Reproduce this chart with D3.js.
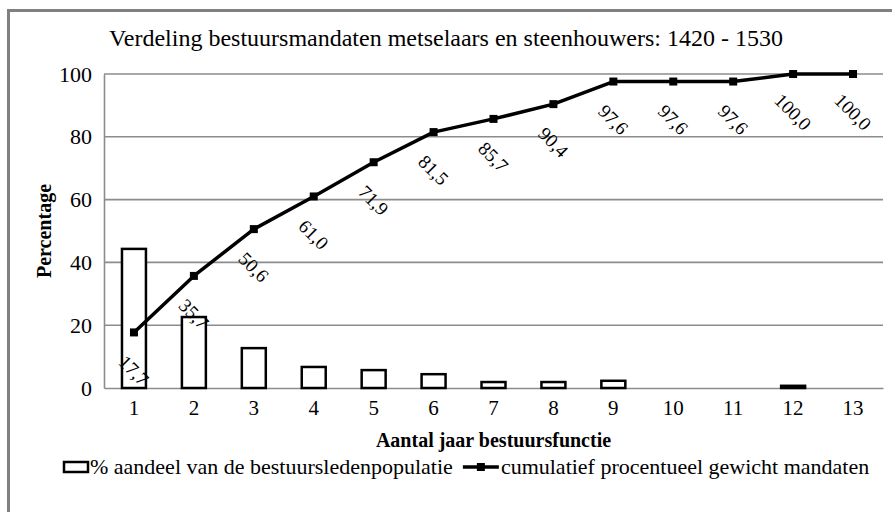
<!DOCTYPE html>
<html>
<head>
<meta charset="utf-8">
<script src="https://cdn.jsdelivr.net/npm/d3@7"></script>
<style>
  body { margin: 0; background: #fff; }
  svg text { font-family: "Liberation Serif", "Times New Roman", Times, "DejaVu Serif", serif; }
</style>
</head>
<body>
<svg id="svg" width="892" height="512"></svg>
<script>
const years = ['1', '2', '3', '4', '5', '6', '7', '8', '9', '10', '11', '12', '13'];
const shares = [44.3, 22.6, 12.7, 6.7, 5.7, 4.4, 1.9, 1.9, 2.3, 0, 0, 0.7, 0];
const cumulative = [17.7, 35.7, 50.6, 61.0, 71.9, 81.5, 85.7, 90.4, 97.6, 97.6, 97.6, 100.0, 100.0];
const yTicks = [0, 20, 40, 60, 80, 100];

const svg = d3.select('#svg');
const padding = {top: 74, right: 9, bottom: 124, left: 104};
const chartArea = {
    width: 892 - padding.left - padding.right,
    height: 512 - padding.top - padding.bottom
};

// outer frame
svg.append('rect')
    .attr('x', 8.5).attr('y', 10.5)
    .attr('width', 892).attr('height', 520)
    .attr('fill', 'none').attr('stroke', '#808080').attr('stroke-width', 3);

svg.append('text')
    .attr('x', 446).attr('y', 46)
    .attr('text-anchor', 'middle')
    .attr('font-size', 24)
    .text('Verdeling bestuursmandaten metselaars en steenhouwers: 1420 - 1530');

const xScale = d3.scaleBand()
    .domain(years)
    .range([0, chartArea.width])
    .paddingInner(0.6)
    .paddingOuter(0.3);
const yScale = d3.scaleLinear()
    .domain([0, 100])
    .range([chartArea.height, 0]);

const g = svg.append('g')
    .attr('transform', 'translate(' + padding.left + ',' + padding.top + ')');

// gridlines
g.selectAll('.grid').data(yTicks.filter(d => d > 0))
    .enter().append('line')
    .attr('x1', 0).attr('x2', chartArea.width)
    .attr('y1', d => yScale(d)).attr('y2', d => yScale(d))
    .attr('stroke', '#8c8c8c').attr('stroke-width', 1.6);

// y axis
const yAxis = g.append('g')
    .call(d3.axisLeft(yScale).tickValues(yTicks).tickSize(0).tickPadding(12));
yAxis.attr('font-family', null);
yAxis.select('.domain').attr('stroke', '#8c8c8c').attr('stroke-width', 1.6);
yAxis.selectAll('text').attr('font-size', 22).attr('fill', '#000');

// x axis
const xAxis = g.append('g')
    .attr('transform', 'translate(0,' + chartArea.height + ')')
    .call(d3.axisBottom(xScale).tickSize(0).tickPadding(12));
xAxis.attr('font-family', null);
xAxis.select('.domain').attr('stroke', '#8c8c8c').attr('stroke-width', 1.6);
xAxis.selectAll('text').attr('font-size', 21).attr('fill', '#000');

// bars
g.selectAll('.bar').data(shares)
    .enter().append('rect')
    .attr('class', 'bar')
    .attr('x', (d, i) => xScale(years[i]))
    .attr('y', d => yScale(d))
    .attr('width', xScale.bandwidth())
    .attr('height', d => chartArea.height - yScale(d))
    .attr('fill', '#fff')
    .attr('stroke', d => d > 0 ? '#000' : 'none')
    .attr('stroke-width', 2.5);

// cumulative line
const line = d3.line()
    .x((d, i) => xScale(years[i]) + xScale.bandwidth() / 2)
    .y(d => yScale(d));
g.append('path').datum(cumulative)
    .attr('d', line)
    .attr('fill', 'none').attr('stroke', '#000').attr('stroke-width', 3.5)
    .attr('stroke-linejoin', 'round');

g.selectAll('.marker').data(cumulative)
    .enter().append('rect')
    .attr('x', (d, i) => xScale(years[i]) + xScale.bandwidth() / 2 - 4)
    .attr('y', d => yScale(d) - 4)
    .attr('width', 8).attr('height', 8)
    .attr('fill', '#000');

// rotated value labels
g.selectAll('.label').data(cumulative)
    .enter().append('text')
    .attr('transform', (d, i) => 'translate(' + (xScale(years[i]) + xScale.bandwidth() / 2) + ',' + (yScale(d) + 38) + ') rotate(45)')
    .attr('text-anchor', 'middle')
    .attr('dy', '0.35em')
    .attr('font-size', 19)
    .text(d => d.toFixed(1).replace('.', ','));

// axis titles
svg.append('text')
    .attr('transform', 'translate(44,' + (padding.top + chartArea.height / 2) + ') rotate(-90)')
    .attr('text-anchor', 'middle')
    .attr('dy', '0.35em')
    .attr('font-size', 20).attr('font-weight', 'bold')
    .text('Percentage');

svg.append('text')
    .attr('x', padding.left + chartArea.width / 2).attr('y', 447)
    .attr('text-anchor', 'middle')
    .attr('font-size', 20).attr('font-weight', 'bold')
    .text('Aantal jaar bestuursfunctie');

// legend, items placed one after the other
const legend = svg.append('g');
legend.append('rect')
    .attr('x', 64).attr('y', 462).attr('width', 24).attr('height', 10)
    .attr('fill', '#fff').attr('stroke', '#000').attr('stroke-width', 2.5);
const leg1 = legend.append('text')
    .attr('x', 90).attr('y', 474)
    .attr('font-size', 22)
    .text('% aandeel van de bestuursledenpopulatie');
const lx = 90 + leg1.node().getComputedTextLength() + 10;
legend.append('line')
    .attr('x1', lx).attr('x2', lx + 36).attr('y1', 467).attr('y2', 467)
    .attr('stroke', '#000').attr('stroke-width', 3.5);
legend.append('rect')
    .attr('x', lx + 14).attr('y', 463).attr('width', 8).attr('height', 8)
    .attr('fill', '#000');
legend.append('text')
    .attr('x', lx + 38).attr('y', 474)
    .attr('font-size', 22)
    .text('cumulatief procentueel gewicht mandaten');
</script>
</body>
</html>
